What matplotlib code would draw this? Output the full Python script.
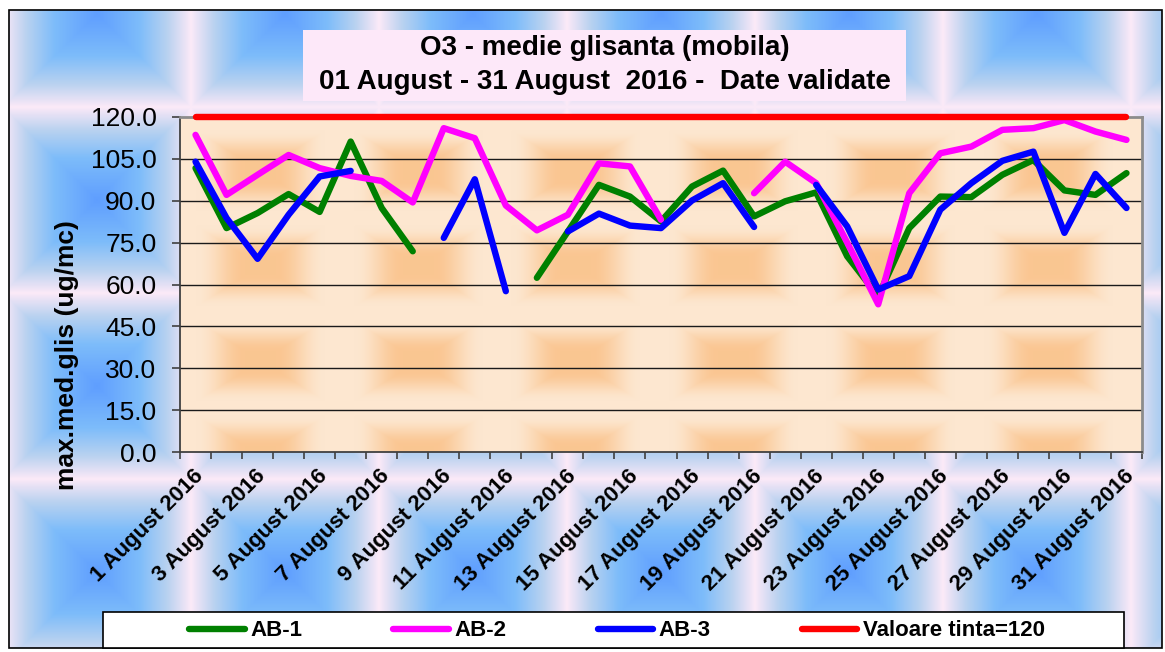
import numpy as np
import matplotlib
matplotlib.use('Agg')
import matplotlib.pyplot as plt
from matplotlib.patches import Rectangle
import matplotlib.transforms as mtransforms

plt.rcParams['font.family'] = ['Liberation Sans', 'DejaVu Sans']

nan = np.nan
days = [f"{d} August 2016" for d in range(1, 32)]
ab1 = [101.7, 80.2, 85.6, 92.4, 86.0, 111.2, 87.4, 71.9, nan, nan, nan, 62.4, 79.0, 95.7, 91.5, 82.6,
       95.1, 100.8, 84.4, 89.8, 93.0, 70.1, 55.8, 80.2, 91.5, 91.3, 99.3, 104.6, 93.7, 92.1, 99.9]
ab2 = [113.6, 92.1, 99.3, 106.4, 101.7, 98.9, 97.1, 89.4, 116.0, 112.4, 88.3, 79.4, 85.0, 103.4, 102.3, 83.2,
       nan, nan, 92.7, 104.0, 96.3, 75.0, 52.9, 92.7, 107.0, 109.4, 115.4, 116.0, 118.9, 114.8, 111.8]
ab3 = [104.0, 83.8, 69.2, 85.0, 98.7, 100.7, nan, nan, 76.7, 97.7, 57.6, nan, 79.0, 85.4, 81.1, 80.2,
       90.1, 96.3, 80.6, nan, 95.7, 80.8, 58.2, 63.0, 86.8, 96.3, 104.3, 107.6, 78.5, 99.6, 87.4]
target = [120.0] * 31
y_ticks = [0, 15, 30, 45, 60, 75, 90, 105, 120]

W, H = 1165, 652
fig = plt.figure(figsize=(W / 100, H / 100), dpi=100)
fig.patch.set_facecolor('white')

# background of the whole chart: blue tiles with pink edges
X, Y = np.meshgrid(np.arange(W) + 0.5, np.arange(H) + 0.5)
dx = ((X - 97 + 94) % 188) - 94
dy = ((Y - 200 + 93) % 186) - 93
t = np.maximum(np.abs(dx) / 94, np.abs(dy) / 93)
stops = [0.0, 0.45, 0.75, 0.92, 1.0]
cols = np.array([[95, 158, 255], [125, 188, 250], [185, 210, 240], [230, 225, 245], [252, 234, 248]]) / 255
bg = np.zeros((H, W, 3))
for c in range(3):
    bg[..., c] = np.interp(t, stops, cols[:, c])
out = (X < 9) | (X > 1162) | (Y < 10) | (Y > 648)
bg[out] = 1.0
fig.figimage(bg, 0, 0, origin='upper', zorder=-5)
fig.patches.append(Rectangle((9 / W, 1 - 648 / H), 1153 / W, 638 / H, transform=fig.transFigure,
                             fill=False, edgecolor='black', lw=1.2, zorder=1))

# title box
fig.patches.append(Rectangle((303 / W, 1 - 101 / H), 603 / W, 71 / H, transform=fig.transFigure,
                             facecolor='#fde8f9', edgecolor='none', zorder=1))
fig.text(605 / W, 1 - 48 / H, "O3 - medie glisanta (mobila)", ha='center', va='center',
         fontsize=20, fontweight='bold')
fig.text(605 / W, 1 - 82 / H, "01 August - 31 August  2016 -  Date validate", ha='center', va='center',
         fontsize=20, fontweight='bold')

ax_l, ax_r, ax_t, ax_b = 180, 1142, 117, 452
ax = fig.add_axes([ax_l / W, 1 - ax_b / H, (ax_r - ax_l) / W, (ax_b - ax_t) / H])

# plot area background: peach with soft orange blobs
pw, ph = ax_r - ax_l, ax_b - ax_t
PX, PY = np.meshgrid(ax_l + np.arange(pw) + 0.5, ax_t + np.arange(ph) + 0.5)
qx = ((PX - 261 + 78.8) % 157.6) - 78.8
qy = ((PY - 171 + 47.5) % 95) - 47.5
q = np.maximum(np.abs(qx) / 64, np.abs(qy) / 40)
k = np.clip((1 - q) / 0.75, 0, 1)
k = k * k * (3 - 2 * k)
base = np.array([253, 231, 208]) / 255
blob = np.array([250, 198, 146]) / 255
pbg = base + (blob - base) * k[..., None]

x = np.arange(len(days))
ax.imshow(pbg, extent=(-0.5, len(days) - 0.5, 0, 120), origin='upper', aspect='auto',
          interpolation='bilinear', zorder=0)

for v in y_ticks[1:-1]:
    ax.axhline(v, color='#1a1a1a', lw=1.0, zorder=1)

lw = 4.6
l1, = ax.plot(x, ab1, color='#008000', lw=lw, solid_capstyle='round', solid_joinstyle='round', zorder=3)
l2, = ax.plot(x, ab2, color='#ff00ff', lw=lw, solid_capstyle='round', solid_joinstyle='round', zorder=4)
l3, = ax.plot(x, ab3, color='#0000ff', lw=lw, solid_capstyle='round', solid_joinstyle='round', zorder=5)
l4, = ax.plot(x, target, color='#ff0000', lw=lw, solid_capstyle='round', zorder=6, clip_on=False)

ax.set_xlim(-0.5, len(days) - 0.5)
ax.set_ylim(0, 120)
ax.set_yticks(y_ticks)
ax.set_yticklabels([f"{v:.1f}" for v in y_ticks], fontsize=19)
ax.tick_params(axis='y', direction='out', length=6, width=1.2, color='#404040', pad=11)

ax.set_xticks(x[::2])
ax.set_xticklabels(days[::2], fontsize=16, fontweight='bold', rotation=45,
                   ha='right', va='center', rotation_mode='anchor')
ax.set_xticks(np.arange(-0.5, len(days)), minor=True)
ax.tick_params(axis='x', which='major', length=0, pad=15)
ax.tick_params(axis='x', which='minor', direction='out', length=5, width=1.2, color='#404040')
offset = mtransforms.ScaledTranslation(5 / 100, 0, fig.dpi_scale_trans)
for lab in ax.get_xticklabels():
    lab.set_transform(lab.get_transform() + offset)

for s in ['left', 'bottom']:
    ax.spines[s].set_color('#404040')
    ax.spines[s].set_linewidth(1.3)
for s in ['top', 'right']:
    ax.spines[s].set_color('#8c8c8c')
    ax.spines[s].set_linewidth(2.0)

fig.text(67 / W, 1 - 355 / H, "max.med.glis (ug/mc)", rotation=90, ha='center', va='center',
         fontsize=19, fontweight='bold')

# legend
fig.patches.append(Rectangle((103 / W, 1 - 648 / H), 1021 / W, 36 / H, transform=fig.transFigure,
                             facecolor='white', edgecolor='black', lw=1.2, zorder=1))
fig.legend([l1, l2, l3, l4], ['AB-1', 'AB-2', 'AB-3', 'Valoare tinta=120'], loc='center',
           bbox_to_anchor=(617 / W, 1 - 631 / H), ncol=4, frameon=False, handlelength=2.5,
           handletextpad=0.25, columnspacing=4.1, prop={'size': 16, 'weight': 'bold'})

fig.savefig('out.png', dpi=100)
